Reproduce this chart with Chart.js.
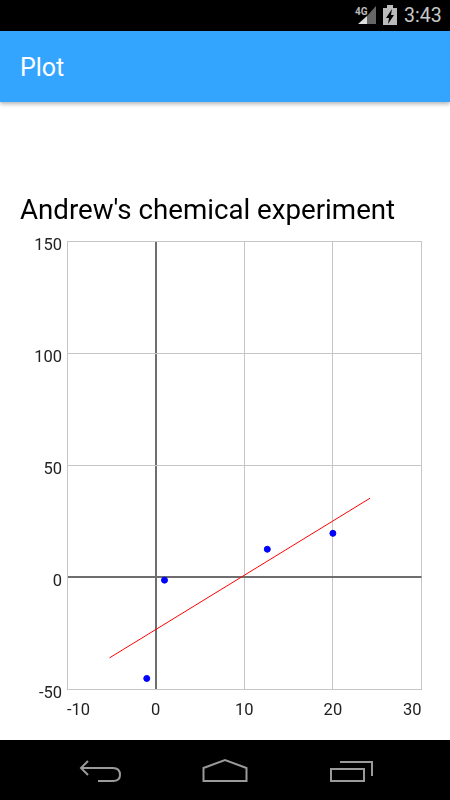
<!DOCTYPE html>
<html>
<head>
<meta charset="utf-8">
<title>Plot</title>
<script src="https://cdn.jsdelivr.net/npm/chart.js@4/dist/chart.umd.min.js"></script>
<style>
  html, body { margin: 0; padding: 0; background: #fff; }
  body { position: relative; width: 450px; height: 800px; overflow: hidden; font-family: Roboto, sans-serif; }
  #status-bar { position: absolute; left: 0; top: 0; width: 450px; height: 31px; background: #000; }
  #clock { position: absolute; left: 404px; top: 5px; font-size: 19.5px; line-height: 22px; color: #c8c8c8; }
  #app-bar { position: absolute; left: 0; top: 31px; width: 450px; height: 71px; background: #33a5ff; box-shadow: 0 2px 4px rgba(0,0,0,0.3); }
  #app-title { position: absolute; left: 20px; top: 21px; font-size: 25px; line-height: 32px; color: #fff; }
  #plot { position: absolute; left: 0; top: 190px; display: block; }
  #nav-bar { position: absolute; left: 0; top: 740px; width: 450px; height: 60px; background: #000; }
  svg { position: absolute; left: 0; top: 0; }
</style>
</head>
<body>
<div id="status-bar">
  <svg width="450" height="31">
    <text x="355" y="15" font-family="Roboto" font-size="10" font-weight="bold" fill="#bbb">4G</text>
    <polygon points="358,24 367,24 367,16" fill="#ddd"/>
    <polygon points="367,24 376,24 376,6 367,16" fill="#666"/>
    <rect x="383" y="8" width="14" height="17" fill="#bbb"/>
    <rect x="387" y="5" width="6" height="3" fill="#bbb"/>
    <polygon points="392,9 386,18 389,18 388,24 394,15 391,15" fill="#000"/>
  </svg>
  <div id="clock">3:43</div>
</div>
<div id="app-bar"><div id="app-title">Plot</div></div>
<canvas id="plot" width="450" height="540"></canvas>
<div id="nav-bar">
  <svg width="450" height="60" fill="none" stroke="#9a9a9a" stroke-width="2">
    <path d="M88 21 L81 28 L88 35 M81 28 H113 Q120 28 120 35 Q120 41 113 41 H98"/>
    <path d="M203.500 41 V28 L225 20 L246.500 28 V41 Z"/>
    <path d="M331 41 V29 H364 V41 Z M340 22 H372 V36"/>
  </svg>
</div>
<script>
// values
const pointX = [-1, 1, 12.6, 20];
const pointY = [-45.3, -1.4, 12.4, 19.5];
const fitX = [-5.2, 24.2];
const fitY = [-36.1, 35.2];
const chartTitle = "Andrew's chemical experiment";

function toXY(xs, ys) {
    return xs.map((x, i) => ({ x: x, y: ys[i] }));
}

const ctx = document.getElementById('plot').getContext('2d');

// zero lines are heavier and darker than the other grid lines
const gridColor = (c) => c.tick && c.tick.value === 0 ? '#6e6e6e' : '#c6c6c6';
const gridWidth = (c) => c.tick && c.tick.value === 0 ? 2 : 1;

new Chart(ctx, {
    type: 'scatter',
    data: {
        datasets: [{
            data: toXY(fitX, fitY),
            showLine: true,
            borderColor: '#ff0000',
            borderWidth: 1,
            pointRadius: 0,
            order: 2
        }, {
            data: toXY(pointX, pointY),
            backgroundColor: '#0000ff',
            borderColor: '#0000ff',
            pointRadius: 3,
            order: 1
        }]
    },
    options: {
        responsive: false,
        animation: false,
        layout: { padding: { left: 20, right: 28.500, top: 0, bottom: 10 } },
        plugins: {
            legend: { display: false },
            tooltip: { enabled: false },
            title: {
                display: true,
                text: chartTitle,
                align: 'start',
                color: '#000',
                font: { family: 'Roboto', size: 27.7, weight: 'normal', lineHeight: 1.25 },
                padding: { top: 5, bottom: 11.400 }
            }
        },
        scales: {
            x: {
                type: 'linear',
                min: -10,
                max: 30,
                afterFit: (s) => { s.height = 31; },
                border: { color: '#c6c6c6' },
                grid: { color: gridColor, lineWidth: gridWidth, drawTicks: false },
                ticks: {
                    stepSize: 10,
                    align: 'inner',
                    maxRotation: 0,
                    padding: 12,
                    color: '#222',
                    font: { family: 'Roboto', size: 16.5 }
                }
            },
            y: {
                type: 'linear',
                min: -50,
                max: 150,
                afterFit: (s) => { s.width = 47; },
                border: { color: '#c6c6c6' },
                grid: { color: gridColor, lineWidth: gridWidth, drawTicks: false },
                ticks: {
                    stepSize: 50,
                    padding: 5,
                    labelOffset: 5,
                    color: '#222',
                    font: { family: 'Roboto', size: 16.5 }
                }
            }
        }
    }
});
</script>
</body>
</html>
